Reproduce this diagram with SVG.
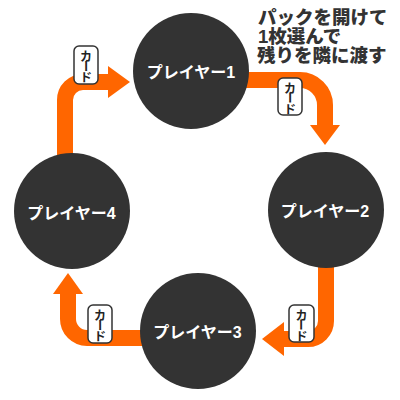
<svg xmlns="http://www.w3.org/2000/svg" width="400" height="400" viewBox="0 0 400 400">
<style>
.arr{fill:none;stroke:#ff6600;stroke-width:16}
.head{fill:#ff6600}
.node{fill:#333333}
.nlab{fill:#ffffff;font-family:"Liberation Sans","Noto Sans CJK JP",sans-serif;font-weight:bold;font-size:16px;text-anchor:middle}
.tag{fill:#ffffff;stroke:#333333;stroke-width:1.5}
.tagt{fill:#222222;font-family:"Noto Sans CJK JP",sans-serif;font-weight:bold;font-size:12px;text-anchor:middle;dominant-baseline:central}
.note{fill:#333333;font-family:"Liberation Sans","Noto Sans CJK JP",sans-serif;font-weight:900;font-size:18.5px}
</style>
<g id="connectors">
<path class="arr" d="M65,170 V100 A18,18 0 0 1 83,82 H110"/>
<polygon class="head" points="108,66 130,82 108,98"/>
<path class="arr" d="M230,80 H300 A25,25 0 0 1 325,105 V127"/>
<polygon class="head" points="310,125 340,125 325,145"/>
<path class="arr" d="M326,250 V321 A18,18 0 0 1 308,339 H280"/>
<polygon class="head" points="284,322 262,339 284,356"/>
<path class="arr" d="M160,338 H87 A19,19 0 0 1 68,319 V290"/>
<polygon class="head" points="53,294 68,273 83,294"/>
<g id="tag1"><rect class="tag" x="74" y="46" width="24" height="38" rx="5"/><text class="tagt" x="86" y="55">カ</text><text class="tagt" x="86" y="66" transform="rotate(90 86 66)">ー</text><text class="tagt" x="86" y="76.5">ド</text></g>
<g id="tag2"><rect class="tag" x="278" y="78" width="24" height="37" rx="5"/><text class="tagt" x="290" y="87">カ</text><text class="tagt" x="290" y="97.5" transform="rotate(90 290 97.5)">ー</text><text class="tagt" x="290" y="108">ド</text></g>
<g id="tag3"><rect class="tag" x="289" y="305" width="25" height="37" rx="5"/><text class="tagt" x="301.5" y="314">カ</text><text class="tagt" x="301.5" y="324.5" transform="rotate(90 301.5 324.5)">ー</text><text class="tagt" x="301.5" y="335">ド</text></g>
<g id="tag4"><rect class="tag" x="88" y="305" width="24" height="38" rx="5"/><text class="tagt" x="100" y="314">カ</text><text class="tagt" x="100" y="325" transform="rotate(90 100 325)">ー</text><text class="tagt" x="100" y="335.5">ド</text></g>
</g>
<g id="player1"><circle class="node" cx="191" cy="71" r="58"/><text class="nlab" x="191" y="78">プレイヤー1</text></g>
<g id="player2"><circle class="node" cx="326" cy="210" r="58"/><text class="nlab" x="325" y="217">プレイヤー2</text></g>
<g id="player3"><circle class="node" cx="198" cy="331" r="58"/><text class="nlab" x="197.5" y="338">プレイヤー3</text></g>
<g id="player4"><circle class="node" cx="72" cy="211" r="58"/><text class="nlab" x="71.5" y="219">プレイヤー4</text></g>
<g id="note">
<text class="note" x="258" y="24">パックを開けて</text>
<text class="note" x="258" y="43">1枚選んで</text>
<text class="note" x="257" y="62">残りを隣に渡す</text>
</g>
</svg>
